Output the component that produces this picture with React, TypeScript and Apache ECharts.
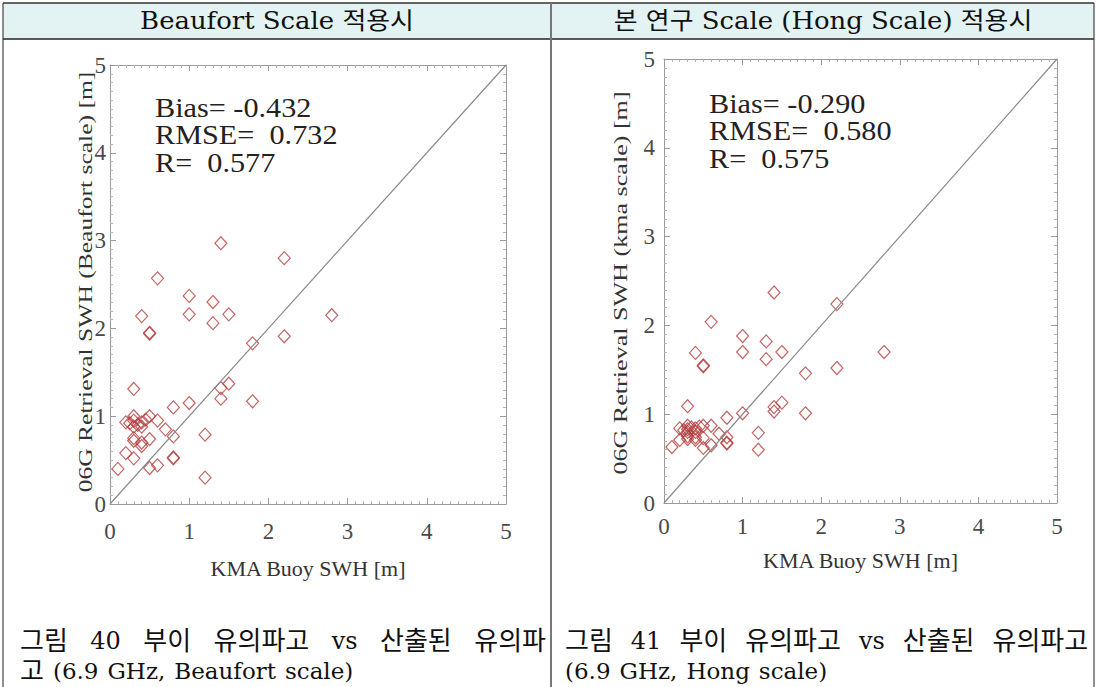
import React, { useEffect, useRef } from "react";
import * as echarts from "echarts";

// ---- data ----
const axisTicks = [0, 1, 2, 3, 4, 5];
const diagonal = [
  [0, 0],
  [5, 5],
];

const beaufortX = [
  1.4, 2.2, 0.6, 1.0, 1.3, 0.4, 1.0, 1.5, 1.3, 2.8, 0.5, 0.5, 2.2, 1.8, 0.3, 1.4,
  1.5, 1.4, 1.8, 1.0, 0.8, 0.2, 0.3, 0.3, 0.35, 0.4, 0.4, 0.3, 0.45, 0.25, 0.5, 0.6,
  0.7, 0.8, 1.2, 0.3, 0.5, 0.4, 0.2, 0.3, 0.8, 0.8, 0.6, 0.5, 0.1, 1.2, 0.3, 0.4,
];
const beaufortY = [
  2.97, 2.8, 2.57, 2.37, 2.3, 2.14, 2.16, 2.16, 2.06, 2.15, 1.94, 1.95, 1.91, 1.83, 1.31, 1.32,
  1.37, 1.2, 1.17, 1.15, 1.1, 0.93, 1.0, 0.95, 0.9, 0.93, 0.88, 0.88, 0.96, 0.92, 1.0, 0.95,
  0.85, 0.77, 0.79, 0.75, 0.74, 0.66, 0.58, 0.52, 0.52, 0.53, 0.44, 0.41, 0.4, 0.3, 0.72, 0.7,
];

const hongX = [
  1.4, 2.2, 0.6, 1.0, 1.3, 0.4, 1.0, 1.5, 1.3, 2.8, 0.5, 0.5, 2.2, 1.8, 0.3, 1.4,
  1.5, 1.4, 1.8, 1.0, 0.8, 0.2, 0.3, 0.3, 0.35, 0.4, 0.4, 0.3, 0.45, 0.25, 0.5, 0.6,
  0.7, 0.8, 1.2, 0.3, 0.5, 0.4, 0.2, 0.8, 0.8, 0.6, 0.5, 0.1, 1.2, 0.3, 0.4,
];
const hongY = [
  2.37, 2.24, 2.04, 1.88, 1.82, 1.69, 1.7, 1.7, 1.62, 1.7, 1.54, 1.55, 1.52, 1.46, 1.09, 1.08,
  1.13, 1.03, 1.01, 1.01, 0.96, 0.84, 0.87, 0.83, 0.85, 0.84, 0.8, 0.8, 0.86, 0.82, 0.87, 0.87,
  0.78, 0.74, 0.79, 0.75, 0.73, 0.71, 0.71, 0.67, 0.68, 0.65, 0.62, 0.63, 0.6, 0.72, 0.74,
];

const beaufortStats = ["Bias= -0.432", "RMSE=  0.732", "R=  0.577"];
const hongStats = ["Bias= -0.290", "RMSE=  0.580", "R=  0.575"];
const headers = ["Beaufort Scale 적용시", "본 연구 Scale (Hong Scale) 적용시"];
const xTitle = "KMA Buoy SWH [m]";
const yTitles = [
  "06G Retrieval SWH (Beaufort scale) [m]",
  "06G Retrieval SWH (kma scale) [m]",
];
const captionLeft1 = ["그림", "40", "부이", "유의파고", "vs", "산출된", "유의파"];
const captionLeft2 = ["고", "(6.9", "GHz,", "Beaufort", "scale)"];
const captionRight1 = ["그림", "41", "부이", "유의파고", "vs", "산출된", "유의파고"];
const captionRight2 = ["(6.9", "GHz,", "Hong", "scale)"];

// ---- styles ----
const SERIF = "'Liberation Serif', 'Times New Roman', serif";
const KFONT = "'DejaVu Serif', 'Noto Sans CJK KR', serif";
const W = 1097;
const H = 687;

function pairs(xs: number[], ys: number[]) {
  return xs.map((x, i) => [x, ys[i]]);
}

function axesFor(
  gridIndex: number,
  xName: string,
  xMargin: number,
  nameGap: number,
  yMargin: number
) {
  const common = {
    gridIndex,
    type: "value",
    min: axisTicks[0],
    max: axisTicks[axisTicks.length - 1],
    interval: 1,
    splitLine: { show: false },
    axisLine: { show: true, onZero: false, lineStyle: { color: "#9a9a9a", width: 1 } },
    axisTick: { show: true, inside: true, length: 6, lineStyle: { color: "#9a9a9a" } },
    minorTick: { show: true, splitNumber: 10, length: 3, lineStyle: { color: "#b5b5b5" } },
  };
  const label = {
    show: true,
    fontFamily: SERIF,
    fontSize: 23,
    color: "#4a4a4a",
  };
  const x = [
    {
      ...common,
      position: "bottom",
      axisLabel: { ...label, margin: xMargin },
      name: xName,
      nameLocation: "middle",
      nameGap,
      nameTextStyle: { fontFamily: SERIF, fontSize: 22, color: "#333" },
    },
    { ...common, position: "top", axisLabel: { show: false } },
  ];
  const y = [
    { ...common, position: "left", axisLabel: { ...label, margin: yMargin } },
    { ...common, position: "right", axisLabel: { show: false } },
  ];
  return { x, y };
}

function measure(text: string, font: string) {
  const c = document.createElement("canvas").getContext("2d")!;
  c.font = font;
  return c.measureText(text).width;
}

const HANGUL = /[\uac00-\ud7a3]/;

function wordLine(
  words: string[],
  x0: number,
  x1: number | null,
  gap: number,
  y: number,
  latinSize: number,
  hangulSize: number
) {
  const sizes = words.map((w) => (HANGUL.test(w) ? hangulSize : latinSize));
  const widths = words.map((w, i) => measure(w, `${sizes[i]}px ${KFONT}`));
  const total = widths.reduce((a, b) => a + b, 0);
  const g = x1 !== null ? (x1 - x0 - total) / (words.length - 1) : gap;
  const els: any[] = [];
  let cx = x0;
  words.forEach((w, i) => {
    els.push({
      type: "text",
      x: cx,
      y,
      style: {
        text: w,
        fontSize: sizes[i],
        fontFamily: KFONT,
        fill: "#111",
        align: "left",
        verticalAlign: "middle",
      },
    });
    cx += widths[i] + g;
  });
  return els;
}

export default function App() {
  const ref = useRef<HTMLDivElement>(null);
  useEffect(() => {
    if (!ref.current) return;
    const chart = echarts.init(ref.current, null, { renderer: "svg", width: W, height: H });
    const a0 = axesFor(0, xTitle, 16, 53, 4);
    const a1 = axesFor(1, xTitle, 12, 46, 9);

    const markerStyle = {
      color: "rgba(0,0,0,0)",
      borderColor: "#b23a3a",
      borderWidth: 1.2,
      opacity: 0.78,
    };

    const statTexts = (lines: string[], x: number, y: number) =>
      lines.map((t, i) => ({
        type: "text",
        x,
        y: y + i * 27.5,
        scaleX: 1.12,
        style: {
          text: t,
          fontFamily: SERIF,
          fontSize: 27,
          fill: "#222",
          align: "left",
          verticalAlign: "top",
        },
      }));

    const yTitle = (text: string, x: number, y: number, sx: number) => ({
      type: "text",
      x,
      y,
      rotation: Math.PI / 2,
      scaleX: sx,
      style: {
        text,
        fontFamily: SERIF,
        fontSize: 18,
        fill: "#333",
        align: "center",
        verticalAlign: "middle",
      },
    });

    const line = (x1: number, y1: number, x2: number, y2: number, color: string, w: number) => ({
      type: "line",
      shape: { x1, y1, x2, y2 },
      style: { stroke: color, lineWidth: w },
      z: 10,
    });

    const headerText = (text: string, x: number) => ({
      type: "text",
      x,
      y: 21,
      scaleX: 1.08,
      style: {
        text,
        fontFamily: KFONT,
        fontSize: 24,
        fontWeight: "normal",
        fill: "#111",
        align: "center",
        verticalAlign: "middle",
      },
    });

    const graphic: any[] = [
      { type: "rect", shape: { x: 3, y: 3, width: 1091, height: 36 }, style: { fill: "#e3f3f4" }, z: 0 },
      line(3, 3, 1094, 3, "#333", 1.5),
      line(3, 39, 1094, 39, "#222", 1.5),
      line(3, 3, 3, H, "#444", 1.2),
      line(1094, 3, 1094, H, "#444", 1.2),
      line(551, 3, 551, H, "#777", 2),
      headerText(headers[0], 277),
      headerText(headers[1], 823),
      ...statTexts(beaufortStats, 155, 94),
      ...statTexts(hongStats, 709, 90),
      yTitle(yTitles[0], 86, 282, 1.42),
      yTitle(yTitles[1], 621, 283, 1.45),
      ...wordLine(captionLeft1, 20, 546, 0, 641, 24, 26),
      ...wordLine(captionRight1, 565, null, 18, 641, 24, 26),
      ...wordLine(captionLeft2, 20, null, 9, 671, 23, 26),
      ...wordLine(captionRight2, 565, null, 9, 671, 23, 26),
    ];

    chart.setOption({
      animation: false,
      backgroundColor: "#ffffff",
      grid: [
        { left: 110, top: 65, width: 396, height: 439 },
        { left: 664, top: 59, width: 393, height: 444 },
      ],
      xAxis: [...a0.x, ...a1.x.map((a) => ({ ...a, gridIndex: 1 }))],
      yAxis: [...a0.y, ...a1.y.map((a) => ({ ...a, gridIndex: 1 }))],
      series: [
        {
          type: "line",
          xAxisIndex: 0,
          yAxisIndex: 0,
          data: diagonal,
          symbol: "none",
          lineStyle: { color: "#8a8a8a", width: 1.2 },
          silent: true,
        },
        {
          type: "scatter",
          xAxisIndex: 0,
          yAxisIndex: 0,
          data: pairs(beaufortX, beaufortY),
          symbol: "diamond",
          symbolSize: [12, 13],
          itemStyle: markerStyle,
        },
        {
          type: "line",
          xAxisIndex: 2,
          yAxisIndex: 2,
          data: diagonal,
          symbol: "none",
          lineStyle: { color: "#8a8a8a", width: 1.2 },
          silent: true,
        },
        {
          type: "scatter",
          xAxisIndex: 2,
          yAxisIndex: 2,
          data: pairs(hongX, hongY),
          symbol: "diamond",
          symbolSize: [12, 13],
          itemStyle: markerStyle,
        },
      ],
      graphic,
    });
    return () => chart.dispose();
  }, []);
  return (
    <div
      ref={ref}
      style={{ position: "absolute", left: 0, top: 0, width: W, height: H, background: "#fff" }}
    />
  );
}
